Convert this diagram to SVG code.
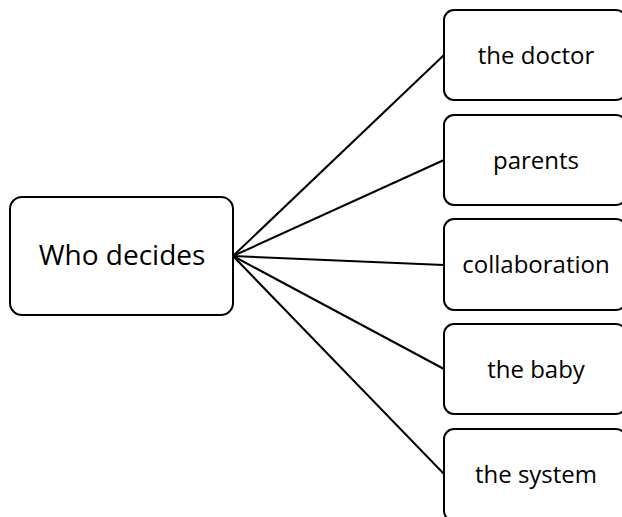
<svg xmlns="http://www.w3.org/2000/svg" width="622" height="517" viewBox="0 0 622 517">
  <style>
    .box { fill: #ffffff; stroke: #000000; stroke-width: 2; }
    .link { stroke: #000000; stroke-width: 2; fill: none; }
    .label { font-family: "Open Sans", "Liberation Sans", sans-serif; fill: #000000; text-anchor: middle; }
    .root { font-size: 28px; }
    .leaf { font-size: 24px; }
  </style>
  <rect width="622" height="517" fill="#ffffff"/>
  <g id="connectors">
    <line class="link" x1="233" y1="256" x2="444" y2="55"/>
    <line class="link" x1="233" y1="256" x2="444" y2="160"/>
    <line class="link" x1="233" y1="256" x2="444" y2="265"/>
    <line class="link" x1="233" y1="256" x2="444" y2="369"/>
    <line class="link" x1="233" y1="256" x2="444" y2="474"/>
  </g>
  <g id="who-decides">
    <rect class="box" x="10" y="197" width="223" height="118" rx="12"/>
    <text class="label root" x="122" y="265">Who decides</text>
  </g>
  <g id="the-doctor">
    <rect class="box" x="444" y="10" width="182" height="90" rx="10"/>
    <text class="label leaf" x="536" y="64">the doctor</text>
  </g>
  <g id="parents">
    <rect class="box" x="444" y="115" width="182" height="90" rx="10"/>
    <text class="label leaf" x="536" y="169">parents</text>
  </g>
  <g id="collaboration">
    <rect class="box" x="444" y="219" width="182" height="91" rx="10"/>
    <text class="label leaf" x="536" y="273">collaboration</text>
  </g>
  <g id="the-baby">
    <rect class="box" x="444" y="324" width="182" height="90" rx="10"/>
    <text class="label leaf" x="536" y="378">the baby</text>
  </g>
  <g id="the-system">
    <rect class="box" x="444" y="429" width="182" height="92" rx="10"/>
    <text class="label leaf" x="536" y="483">the system</text>
  </g>
</svg>
